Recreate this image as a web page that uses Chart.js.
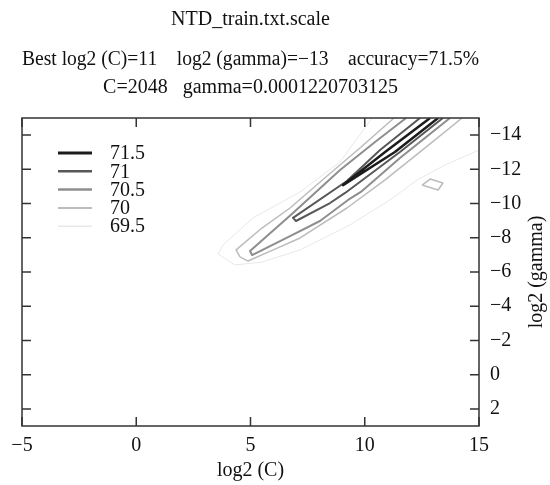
<!DOCTYPE html>
<html>
<head>
<meta charset="utf-8">
<script src="https://cdn.jsdelivr.net/npm/chart.js@4/dist/chart.umd.min.js"></script>
<style>
  html, body { margin: 0; padding: 0; background: #fff; }
</style>
</head>
<body>
<canvas id="contourChart" width="550" height="485"></canvas>
<script>
// contour levels (accuracy %), listed darkest first
const levels = ['71.5', '71', '70.5', '70', '69.5'];
const cTicks = [-5, 0, 5, 10, 15];
const gammaTicks = [2, 0, -2, -4, -6, -8, -10, -12, -14];

// contour paths as [log2(C), log2(gamma)] pairs
const line715 = [[12.86, -15], [10.89, -13.01], [9.05, -11.08], [11.32, -13.01], [13.21, -15]];
const line71 = [[12.42, -15], [10.67, -13.13], [9.22, -11.32], [6.86, -9.16], [6.99, -8.98],
  [8.48, -10.03], [9.14, -10.62], [11.54, -13.01], [13.42, -15]];
const line705 = [[11.81, -15], [10.45, -13.6], [8.92, -11.96], [6.86, -9.45], [4.98, -7.23],
  [5.07, -6.99], [6.73, -8.1], [8.04, -8.98], [9.27, -10.21], [9.88, -10.73], [11.54, -12.66], [13.73, -15]];
const line70 = [[11.28, -15], [9.79, -13.25], [8.35, -11.61], [6.73, -9.74], [5.5, -8.57], [4.37, -7.29],
  [4.54, -6.88], [4.89, -6.64], [6.07, -7.34], [7.17, -7.99], [9.22, -9.74], [10.89, -11.38],
  [12.64, -13.25], [14.26, -15]];
const island70 = [[12.51, -11.08], [12.86, -11.43], [13.42, -11.2], [13.21, -10.79], [12.51, -11.08]];
const line695 = [[10.32, -15], [8.92, -12.43], [7.17, -10.68], [5.11, -9.16], [3.8, -7.58], [3.58, -7.05],
  [4.32, -6.41], [5.5, -6.58], [7.17, -7.29], [9.35, -8.75], [11.1, -10.21], [12.29, -11.38],
  [13.51, -12.25], [15, -13.13]];

const levelColors = ['#1c1c1c', '#585858', '#8e8e8e', '#bcbcbc', '#e8e8e8'];
const levelWidths = [2.5, 2, 2, 1.5, 1];

const toPoints = (arr) => arr.map(p => ({ x: p[0], y: p[1] }));
const fmt = (v) => String(v).replace('-', '\u2212');

function contour(path, level) {
  const i = levels.indexOf(level);
  return {
    label: level,
    data: toPoints(path),
    showLine: true,
    fill: false,
    tension: 0,
    pointRadius: 0,
    borderColor: levelColors[i],
    borderWidth: levelWidths[i],
    borderJoinStyle: 'round'
  };
}

// box, inward ticks, legend and rotated y title
const framePlugin = {
  id: 'frame',
  afterDatasetsDraw(chart) {
    const ctx = chart.ctx;
    const { left, right, top, bottom } = chart.chartArea;
    const xs = chart.scales.x, ys = chart.scales.y;
    const tick = 9;

    ctx.save();
    ctx.strokeStyle = '#333';
    ctx.lineWidth = 1.5;
    ctx.strokeRect(left, top, right - left, bottom - top);
    ctx.beginPath();
    cTicks.forEach(v => {
      const px = xs.getPixelForValue(v);
      ctx.moveTo(px, bottom); ctx.lineTo(px, bottom - tick);
      ctx.moveTo(px, top); ctx.lineTo(px, top + tick);
    });
    gammaTicks.forEach(v => {
      const py = ys.getPixelForValue(v);
      ctx.moveTo(left, py); ctx.lineTo(left + tick, py);
      ctx.moveTo(right, py); ctx.lineTo(right - tick, py);
    });
    ctx.stroke();

    // legend
    ctx.font = '20px "Liberation Serif", serif';
    ctx.fillStyle = '#111';
    ctx.textBaseline = 'middle';
    ctx.textAlign = 'left';
    levels.forEach((lv, i) => {
      const y = top + 35 + i * 18.3;
      ctx.strokeStyle = levelColors[i];
      ctx.lineWidth = levelWidths[i] + 0.5;
      ctx.beginPath();
      ctx.moveTo(left + 36, y); ctx.lineTo(left + 70, y);
      ctx.stroke();
      ctx.fillText(lv, left + 88, y + 1);
    });

    // y axis title, reading upward
    ctx.translate(537, (top + bottom) / 2);
    ctx.rotate(-Math.PI / 2);
    ctx.textAlign = 'center';
    ctx.fillText('log2 (gamma)', 0, 0);
    ctx.restore();
  }
};

Chart.defaults.font.family = '"Liberation Serif", "Times New Roman", serif';
Chart.defaults.font.size = 20;
Chart.defaults.color = '#111';

new Chart(document.getElementById('contourChart').getContext('2d'), {
  type: 'scatter',
  data: {
    datasets: [
      contour(line715, '71.5'),
      contour(line71, '71'),
      contour(line705, '70.5'),
      contour(line70, '70'),
      contour(island70, '70'),
      contour(line695, '69.5')
    ]
  },
  options: {
    responsive: false,
    animation: false,
    layout: { padding: { left: 22, right: 0, top: 0, bottom: 0 } },
    plugins: {
      legend: { display: false },
      tooltip: { enabled: false },
      title: {
        display: true,
        fullSize: false,
        text: 'NTD_train.txt.scale',
        font: { size: 20, weight: 'normal' },
        padding: { top: 8, bottom: 14 }
      },
      subtitle: {
        display: true,
        fullSize: false,
        text: ['Best log2 (C)=11    log2 (gamma)=\u221213    accuracy=71.5%',
               'C=2048   gamma=0.0001220703125'],
        font: { size: 20, lineHeight: 1.4 },
        padding: { top: 0, bottom: 16 }
      }
    },
    scales: {
      x: {
        type: 'linear',
        position: 'bottom',
        min: -5,
        max: 15,
        grid: { display: false },
        border: { display: false },
        afterBuildTicks: (s) => { s.ticks = cTicks.map(v => ({ value: v })); },
        afterFit: (s) => { s.height = 59; },
        ticks: { padding: 0, maxRotation: 0, callback: fmt },
        title: { display: true, text: 'log2 (C)', padding: { top: 0, bottom: 2 } }
      },
      y: {
        type: 'linear',
        position: 'right',
        reverse: true,
        min: -15,
        max: 3,
        grid: { display: false },
        border: { display: false },
        afterBuildTicks: (s) => { s.ticks = gammaTicks.map(v => ({ value: v })); },
        afterFit: (s) => { s.width = 71; },
        ticks: { padding: 3, callback: fmt }
      }
    }
  },
  plugins: [framePlugin]
});
</script>
</body>
</html>
